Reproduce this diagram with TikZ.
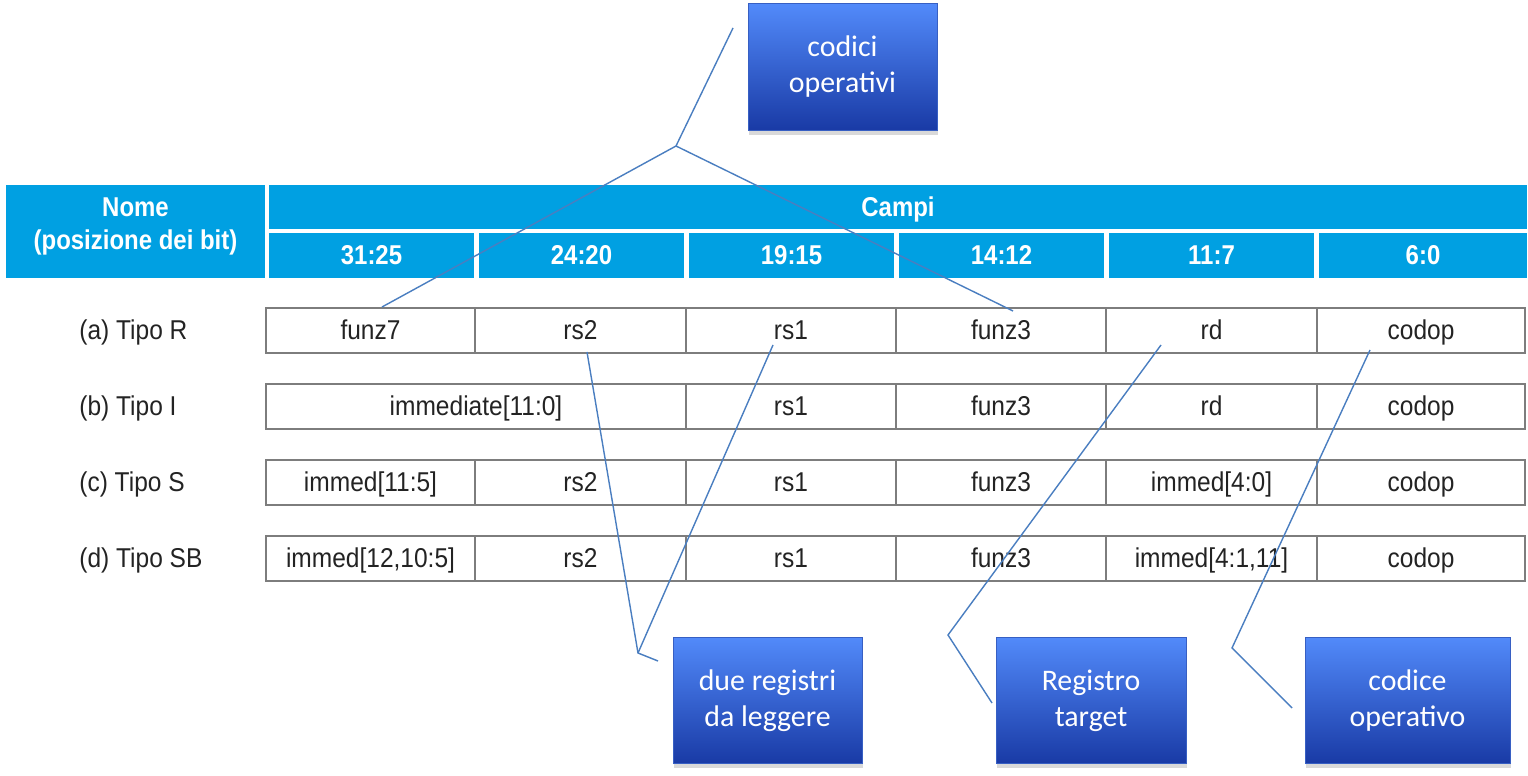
\documentclass[tikz,border=0pt]{standalone}
\usepackage{fontspec}
\newfontfamily\cond{Liberation Sans}[FakeStretch=0.9]
\newfontfamily\condb{Liberation Sans Bold}[FakeStretch=0.88]
\newfontfamily\calib{Carlito}
\usetikzlibrary{shadows}
\definecolor{hdr}{RGB}{0,160,226}
\definecolor{cellgray}{RGB}{125,125,125}
\definecolor{txt}{RGB}{35,35,35}
\definecolor{lnk}{RGB}{74,126,192}
\definecolor{boxtop}{RGB}{82,138,250}
\definecolor{boxbot}{RGB}{25,58,165}
\definecolor{boxedge}{RGB}{55,95,195}
\begin{document}
\begin{tikzpicture}[x=0.02cm,y=-0.02cm,
  hcell/.style={fill=hdr, inner sep=0pt, minimum height=0.9cm, text=white,
    font=\condb\fontsize{15.5}{18.8}\selectfont, align=center},
  cell/.style={draw=cellgray, line width=1pt, inner sep=0pt, minimum height=0.9cm,
    text height=14pt, text depth=3.2pt,
    text=txt, font=\cond\fontsize{15.5}{18}\selectfont},
  rowlab/.style={anchor=west, inner sep=0pt, text height=14pt, text depth=3.2pt,
    text=txt, font=\cond\fontsize{15.5}{18}\selectfont},
  callout/.style={top color=boxtop, bottom color=boxbot, draw=boxedge, line width=0.4pt,
    minimum height=2.53cm, inner sep=0pt, text=white, align=center,
    font=\calib\fontsize{17}{20.5}\selectfont,
    drop shadow={shadow xshift=0.5pt, shadow yshift=-2.5pt, opacity=0.3}},
  link/.style={draw=lnk, line width=0.8pt}]
\useasboundingbox (0,0) rectangle (1528,776);

% header
\node[hcell, minimum width=5.18cm, minimum height=1.86cm, text depth=9pt] (nome) at (135.5,231.5) {Nome\\(posizione dei bit)};
\node[hcell, minimum width=25.16cm, minimum height=0.88cm, text height=14pt, text depth=3.2pt] (campi) at (898,207) {Campi};
\tikzset{sub/.style={hcell, text height=14pt, text depth=3.2pt}}
\node[sub, minimum width=4.1cm] (h1) at (371.5,255.5) {31:25};
\node[sub, minimum width=4.1cm] (h2) at (581.5,255.5) {24:20};
\node[sub, minimum width=4.1cm] (h3) at (791.5,255.5) {19:15};
\node[sub, minimum width=4.1cm] (h4) at (1001.5,255.5) {14:12};
\node[sub, minimum width=4.1cm] (h5) at (1211.5,255.5) {11:7};
\node[sub, minimum width=4.16cm] (h6) at (1423,255.5) {6:0};

% row labels
\node[rowlab] (la) at (79,330.5) {(a) Tipo R};
\node[rowlab] (lb) at (79,406.5) {(b) Tipo I};
\node[rowlab] (lc) at (79,482.5) {(c) Tipo S};
\node[rowlab] (ld) at (79,558.5) {(d) Tipo SB};

% row a
\node[cell, minimum width=4.18cm] (a1) at (370.5,330.5) {funz7};
\node[cell, minimum width=4.22cm] (a2) at (580.5,330.5) {rs2};
\node[cell, minimum width=4.2cm] (a3) at (791,330.5) {rs1};
\node[cell, minimum width=4.2cm] (a4) at (1001,330.5) {funz3};
\node[cell, minimum width=4.22cm] (a5) at (1211.5,330.5) {rd};
\node[cell, minimum width=4.16cm] (a6) at (1421,330.5) {codop};
% row b
\node[cell, minimum width=8.4cm] (b1) at (476,406.5) {immediate[11:0]};
\node[cell, minimum width=4.2cm] (b3) at (791,406.5) {rs1};
\node[cell, minimum width=4.2cm] (b4) at (1001,406.5) {funz3};
\node[cell, minimum width=4.22cm] (b5) at (1211.5,406.5) {rd};
\node[cell, minimum width=4.16cm] (b6) at (1421,406.5) {codop};
% row c
\node[cell, minimum width=4.18cm] (c1) at (370.5,482.5) {immed[11:5]};
\node[cell, minimum width=4.22cm] (c2) at (580.5,482.5) {rs2};
\node[cell, minimum width=4.2cm] (c3) at (791,482.5) {rs1};
\node[cell, minimum width=4.2cm] (c4) at (1001,482.5) {funz3};
\node[cell, minimum width=4.22cm] (c5) at (1211.5,482.5) {immed[4:0]};
\node[cell, minimum width=4.16cm] (c6) at (1421,482.5) {codop};
% row d
\node[cell, minimum width=4.18cm] (d1c) at (370.5,558.5) {immed[12,10:5]};
\node[cell, minimum width=4.22cm] (d2c) at (580.5,558.5) {rs2};
\node[cell, minimum width=4.2cm] (d3c) at (791,558.5) {rs1};
\node[cell, minimum width=4.2cm] (d4c) at (1001,558.5) {funz3};
\node[cell, minimum width=4.22cm] (d5c) at (1211.5,558.5) {immed[4:1,11]};
\node[cell, minimum width=4.16cm] (d6c) at (1421,558.5) {codop};

% callouts
\node[callout, minimum width=3.78cm] (cop) at (842.5,67) {codici\\operativi};
\node[callout, minimum width=3.78cm] (due) at (767.5,700.5) {due registri\\da leggere};
\node[callout, minimum width=3.8cm] (tgt) at (1091,700.5) {Registro\\target};
\node[callout, minimum width=4.1cm] (cod) at (1407.5,700.5) {codice\\operativo};

% connectors
\coordinate (cA) at (733,28);
\coordinate (cV) at (676,146);
\coordinate (cL) at (382,307);
\coordinate (cR) at (1013,311);
\draw[link] (cA) -- (cV) -- (cL);
\draw[link] (cV) -- (cR);

\coordinate (r2) at (587,352);
\coordinate (r1) at (773,345);
\coordinate (dV) at (638,653);
\coordinate (dE) at (658,661);
\draw[link] (r2) -- (dV) -- (dE);
\draw[link] (r1) -- (dV);

\coordinate (t1) at (1161,345);
\coordinate (tV) at (948,635);
\coordinate (tE) at (992,703);
\draw[link] (t1) -- (tV) -- (tE);

\coordinate (o1) at (1370,350);
\coordinate (oV) at (1232,648);
\coordinate (oE) at (1292,708);
\draw[link] (o1) -- (oV) -- (oE);
\end{tikzpicture}
\end{document}
